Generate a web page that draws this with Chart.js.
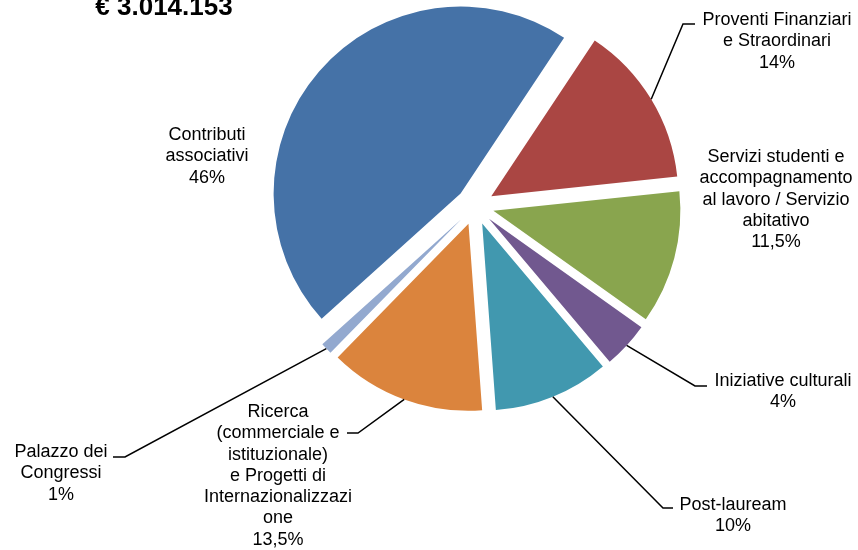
<!DOCTYPE html>
<html>
<head>
<meta charset="utf-8">
<script src="https://cdn.jsdelivr.net/npm/chart.js@4"></script>
<style>
html,body{margin:0;padding:0;background:#fff;}
#wrap{position:relative;width:858px;height:550px;}
</style>
</head>
<body>
<div id="wrap"><canvas id="c" width="858" height="550"></canvas></div>
<script>
// ---- data ----
const title = "€ 3.014.153";
const categories = [
  ["Contributi", "associativi"],
  ["Proventi Finanziari", "e Straordinari"],
  ["Servizi studenti e", "accompagnamento", "al lavoro / Servizio", "abitativo"],
  ["Iniziative culturali"],
  ["Post-lauream"],
  ["Ricerca", "(commerciale e", "istituzionale)", "e Progetti di", "Internazionalizzazi", "one"],
  ["Palazzo dei", "Congressi"]
];
const values = [46, 14, 11.5, 4, 10, 13.5, 1];
const valueLabels = ["46%", "14%", "11,5%", "4%", "10%", "13,5%", "1%"];

// ---- style / layout ----
const colors = ["#4572A7", "#AA4643", "#89A54E", "#71588F", "#4198AF", "#DB843D", "#93A9CF"];
const EXPLODE = 19; // pixels each slice is pulled out along its mid-angle
// label text centre (x, first line centre y), leader elbow (null = no leader)
const labelPos = [
  {x: 207, y: 135, elbow: null},
  {x: 777, y: 20, elbow: [683, 24], end: [695, 24]},
  {x: 776, y: 157, elbow: null},
  {x: 783, y: 381, elbow: [695, 386], end: [707, 386]},
  {x: 733, y: 505, elbow: [663, 508], end: [673, 508]},
  {x: 278, y: 412, elbow: [358, 433], end: [347, 433]},
  {x: 61, y: 452, elbow: [125, 457], end: [113, 457]}
];
const FONT = '18px "Liberation Sans", Arial, sans-serif';
const LINE_H = 21.3;

// draw each arc translated outward (exploded pie) without changing its radius
const explodePlugin = {
  id: 'explode',
  beforeDatasetDraw(chart, args) {
    const ctx = chart.ctx;
    args.meta.data.forEach(arc => {
      const mid = (arc.startAngle + arc.endAngle) / 2;
      ctx.save();
      ctx.translate(Math.cos(mid) * EXPLODE, Math.sin(mid) * EXPLODE);
      arc.draw(ctx);
      ctx.restore();
    });
    return false;
  }
};

const labelPlugin = {
  id: 'labels',
  afterDatasetsDraw(chart) {
    const ctx = chart.ctx;
    const meta = chart.getDatasetMeta(0);
    ctx.save();
    ctx.fillStyle = '#000';
    ctx.font = 'bold 26px "Liberation Sans", Arial, sans-serif';
    ctx.textAlign = 'center';
    ctx.textBaseline = 'alphabetic';
    ctx.fillText(title, 164, 15);
    ctx.font = FONT;
    ctx.textBaseline = 'middle';
    meta.data.forEach((arc, i) => {
      const p = labelPos[i];
      const lines = categories[i].concat([valueLabels[i]]);
      lines.forEach((t, k) => ctx.fillText(t, p.x, p.y + k * LINE_H));
      if (p.elbow) {
        const mid = (arc.startAngle + arc.endAngle) / 2;
        const r = arc.outerRadius + EXPLODE;
        const sx = arc.x + Math.cos(mid) * r;
        const sy = arc.y + Math.sin(mid) * r;
        ctx.beginPath();
        ctx.strokeStyle = '#000';
        ctx.lineWidth = 1.5;
        ctx.moveTo(sx, sy);
        ctx.lineTo(p.elbow[0], p.elbow[1]);
        ctx.lineTo(p.end[0], p.end[1]);
        ctx.stroke();
      }
    });
    ctx.restore();
  }
};

new Chart(document.getElementById('c'), {
  type: 'pie',
  data: {
    labels: categories.map(c => c.join(' ')),
    datasets: [{
      data: values,
      backgroundColor: colors,
      borderWidth: 0,
      offset: 0,
      hoverOffset: 0,
      clip: false
    }]
  },
  options: {
    responsive: false,
    animation: false,
    events: [],
    rotation: 228,
    radius: 187,
    layout: {padding: {left: 255, right: 163, top: 6, bottom: 144}},
    plugins: {legend: {display: false}, tooltip: {enabled: false}, title: {display: false}}
  },
  plugins: [explodePlugin, labelPlugin]
});
</script>
</body>
</html>
